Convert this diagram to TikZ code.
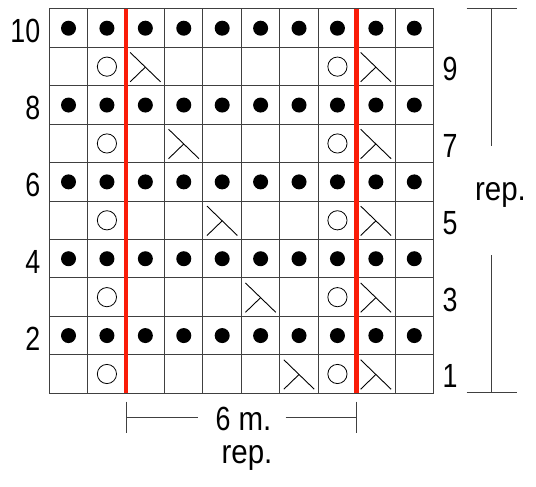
\documentclass[tikz,border=0pt]{standalone}
\usepackage{fontspec}
\setmainfont[FakeStretch=0.88]{Liberation Sans}
\newfontfamily\numfont[FakeStretch=0.8]{Liberation Sans}
\usetikzlibrary{calc}
\definecolor{repred}{RGB}{250,28,8}
\begin{document}
\begin{tikzpicture}[x=1pt,y=-1pt,
  gridline/.style={line width=1pt, draw=black!75},
  redline/.style={line width=4.5pt, draw=repred},
  dotmark/.style={fill=black},
  yomark/.style={line width=0.8pt, draw=black},
  decmark/.style={line width=0.9pt, draw=black},
  lab/.style={font=\fontsize{33.5}{40}\selectfont, inner sep=0pt},
  numlab/.style={font=\fontsize{33.5}{40}\selectfont\numfont, inner sep=0pt},
  brk/.style={line width=1pt, draw=black!75}]
\useasboundingbox (0,0) rectangle (536,487);
\def\X{49.3}\def\Y{9}\def\C{38.42}
% grid
\foreach \i in {0,...,10} {
  \draw[gridline] ({\X+\i*\C},\Y) -- ({\X+\i*\C},{\Y+10*\C});
  \draw[gridline] (\X,{\Y+\i*\C}) -- ({\X+10*\C},{\Y+\i*\C});
}
% even rows: dots
\foreach \r in {2,4,6,8,10} {
  \foreach \c in {1,...,10} {
    \fill[dotmark] ({\X+(\c-0.5)*\C},{\Y+(10.5-\r)*\C}) circle[radius=7.5pt];
  }
}
% odd rows: yarn overs and decreases
\foreach \r/\k in {1/7,3/6,5/5,7/4,9/3} {
  \foreach \c in {2,8} {
    \draw[yomark] ({\X+(\c-0.5)*\C},{\Y+(10.5-\r)*\C}) circle[radius=9.6pt];
  }
  \foreach \c in {9,\k} {
    \coordinate (dA) at ({\X+(\c-1)*\C+4},{\Y+(10-\r)*\C+5});
    \coordinate (dB) at ({\X+\c*\C-4},{\Y+(11-\r)*\C-4});
    \coordinate (dC) at ({\X+(\c-1)*\C+4},{\Y+(11-\r)*\C-4});
    \draw[decmark] (dA) -- (dB);
    \draw[decmark] ($(dA)!0.5!(dB)$) -- (dC);
  }
}
% red repeat lines
\draw[redline] ({\X+2*\C},\Y) -- ({\X+2*\C},{\Y+10*\C});
\draw[redline] ({\X+8*\C},\Y) -- ({\X+8*\C},{\Y+10*\C});
% row numbers
\foreach \r in {2,4,6,8,10} {
  \node[numlab, anchor=base east] (L\r) at (40.5,{\Y+(10.5-\r)*\C+14.5}) {\r};
}
\foreach \r in {1,3,5,7,9} {
  \node[numlab, anchor=base west] (R\r) at (442.5,{\Y+(10.5-\r)*\C+14}) {\r};
}
% right bracket
\coordinate (rt1) at (466.7,9);
\coordinate (rt2) at (516.7,9);
\coordinate (rv1) at (491.5,9);
\coordinate (rv2) at (491.5,146);
\coordinate (rv3) at (491.5,255);
\coordinate (rv4) at (491.5,392.7);
\coordinate (rb1) at (466.7,392.7);
\coordinate (rb2) at (516.7,392.7);
\draw[brk] (rt1) -- (rt2);
\draw[brk] (rv1) -- (rv2);
\draw[brk] (rv3) -- (rv4);
\draw[brk] (rb1) -- (rb2);
\node[lab, anchor=base] (repR) at (500.5,200.7) {rep.};
% bottom bracket
\coordinate (bl1) at ({\X+2*\C},401.7);
\coordinate (bl2) at ({\X+2*\C},433.3);
\coordinate (br1) at ({\X+8*\C},401.7);
\coordinate (br2) at ({\X+8*\C},433.3);
\coordinate (bh1) at ({\X+2*\C},417.7);
\coordinate (bh2) at (198.3,417.7);
\coordinate (bh3) at (285.7,417.7);
\coordinate (bh4) at ({\X+8*\C},417.7);
\draw[brk] (bl1) -- (bl2);
\draw[brk] (br1) -- (br2);
\draw[brk] (bh1) -- (bh2);
\draw[brk] (bh3) -- (bh4);
\node[lab, anchor=base] (sixm) at (243.5,430.7) {{\numfont 6} m.};
\node[lab, anchor=base] (repB) at (247,463.3) {rep.};
\end{tikzpicture}
\end{document}
